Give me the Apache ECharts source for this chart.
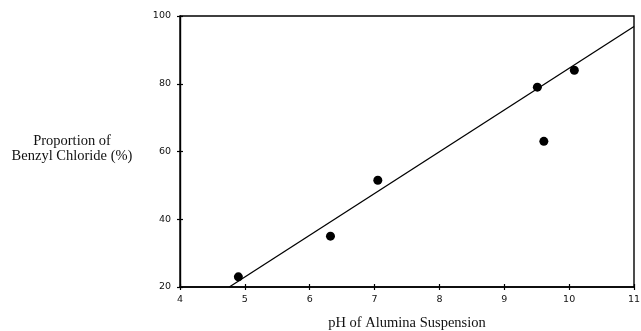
<!DOCTYPE html>
<html>
<head>
<meta charset="utf-8">
<script src="https://cdn.jsdelivr.net/npm/echarts@6/dist/echarts.min.js"></script>
<style>
  html, body { margin: 0; padding: 0; background: #fff; }
  #chart { width: 641px; height: 331px; }
</style>
</head>
<body>
<div id="chart"></div>
<script>
// measured points: pH vs proportion of benzyl chloride
var phValues = [4.9, 6.32, 7.05, 9.51, 9.61, 10.08];
var proportion = [23, 35, 51.5, 79, 63, 84];
// fitted line end points
var fitX = [4.76, 11];
var fitY = [20, 96.9];

var chart = echarts.init(document.getElementById("chart"));

var points = phValues.map(function (x, i) { return [x, proportion[i]]; });
var fit = fitX.map(function (x, i) { return [x, fitY[i]]; });

var tickFont = { color: "#111", fontFamily: "DejaVu Sans", fontSize: 9.5 };

function xAx(inside, show) {
  return {
    type: "value", min: 4, max: 11, interval: 1, position: "bottom",
    axisLine: { show: show, lineStyle: { color: "#000", width: 1.6 } },
    axisTick: { show: true, inside: inside, length: 3, lineStyle: { color: "#000", width: 1.2 } },
    axisLabel: show ? Object.assign({ margin: 8 }, tickFont) : { show: false },
    splitLine: { show: false },
    name: show ? "pH of Alumina Suspension" : "",
    nameLocation: "middle", nameGap: 29,
    nameTextStyle: { fontFamily: "Liberation Serif", fontSize: 14.5, color: "#111" }
  };
}
function yAx(inside, show) {
  return {
    type: "value", min: 20, max: 100, interval: 20, position: "left",
    axisLine: { show: show, lineStyle: { color: "#000", width: 1.4 } },
    axisTick: { show: true, inside: inside, length: 3, lineStyle: { color: "#000", width: 1.2 } },
    axisLabel: show ? Object.assign({ margin: 9 }, tickFont) : { show: false },
    splitLine: { show: false }
  };
}

chart.setOption({
  animation: false,
  backgroundColor: "#fff",
  grid: {
    left: 180, right: 7, top: 16, bottom: 44, outerBoundsMode: "none",
    show: true, borderColor: "#000", borderWidth: 1.4
  },
  xAxis: [xAx(false, true), xAx(true, false)],
  yAxis: [yAx(false, true), yAx(true, false)],
  graphic: [{
    type: "text", x: 72, y: 134,
    style: {
      text: "Proportion of\nBenzyl Chloride (%)",
      fontFamily: "Liberation Serif", fontSize: 14.5, fill: "#111",
      align: "center", verticalAlign: "top", lineHeight: 15
    }
  }],
  series: [
    {
      type: "line", data: fit, symbol: "none",
      lineStyle: { color: "#000", width: 1.3 }
    },
    {
      type: "scatter", data: points, symbolSize: 9,
      itemStyle: { color: "#000", opacity: 1 }
    }
  ]
});
</script>
</body>
</html>
